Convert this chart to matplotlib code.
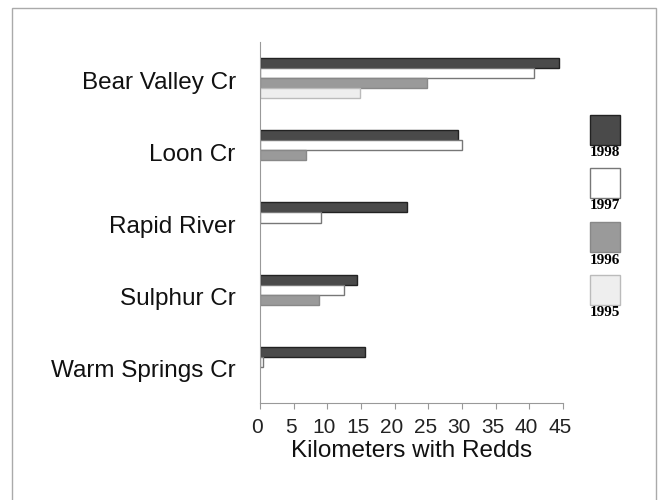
import matplotlib
matplotlib.use("Agg")
import matplotlib.pyplot as plt
from matplotlib.patches import Rectangle
from matplotlib.transforms import ScaledTranslation
import numpy as np

streams = ["Bear Valley Cr", "Loon Cr", "Rapid River", "Sulphur Cr", "Warm Springs Cr"]
years = ["1998", "1997", "1996", "1995"]
km_1998 = [44.4, 29.4, 21.8, 14.4, 15.6]
km_1997 = [40.7, 30.0, 9.1, 12.5, 0.4]
km_1996 = [24.8, 6.8, 0.0, 8.8, 0.0]
km_1995 = [14.9, 0.0, 0.0, 0.0, 0.0]
series = [km_1998, km_1997, km_1996, km_1995]
xticks = [0, 5, 10, 15, 20, 25, 30, 35, 40, 45]

faces = ["#4a4a4a", "#ffffff", "#9a9a9a", "#eeeeee"]
edges = ["#222222", "#777777", "#888888", "#bbbbbb"]

fig = plt.figure(figsize=(6.58, 5.0), dpi=100)
plt.rcParams['font.family'] = ['Liberation Sans', 'DejaVu Sans']

# page frame
fig.patches.append(Rectangle((12/658, -0.1), (656-12)/658, 1.1 - 8/500,
                             transform=fig.transFigure, fill=False,
                             edgecolor="#aaaaaa", linewidth=1.0))

ax = fig.add_axes([260/658, 1-403/500, (563-260)/658, (403-42)/500])
y = np.arange(len(streams))
h = 10/72
for i, (vals, fc, ec) in enumerate(zip(series, faces, edges)):
    offs = (i - 1.5) * h
    v = np.array(vals)
    mask = v > 0
    ax.barh(y[mask] + offs, v[mask], height=h, color=fc, edgecolor=ec,
            linewidth=1.0, align='center')

ax.set_ylim(4.5, -0.5)
ax.set_xlim(0, 45)
ax.set_xticks(xticks)
ax.set_xticklabels([str(t) for t in xticks], fontsize=15, color="#222222")
ax.set_yticks(y)
ax.set_yticklabels(streams, fontsize=17.5, color="#111111")
ax.tick_params(axis='y', length=0, pad=17.5)
ax.tick_params(axis='x', length=4, color="#999999", pad=7)
for lbl in ax.get_yticklabels():
    lbl.set_transform(lbl.get_transform() + ScaledTranslation(0, -2/100, fig.dpi_scale_trans))
for lbl in ax.get_xticklabels():
    lbl.set_transform(lbl.get_transform() + ScaledTranslation(-3/100, 0, fig.dpi_scale_trans))
for s in ["top", "right"]:
    ax.spines[s].set_visible(False)
ax.spines["left"].set_color("#999999")
ax.spines["bottom"].set_color("#999999")
ax.set_xlabel("Kilometers with Redds", fontsize=17.5, labelpad=2, color="#111111")

# legend boxes
box_tops = [115, 168, 222, 275]
for yr, fc, ec, top in zip(years, faces, edges, box_tops):
    fig.patches.append(Rectangle((590/658, 1-(top+30)/500), 30/658, 30/500,
                                 transform=fig.transFigure, facecolor=fc,
                                 edgecolor=ec, linewidth=1.0))
    fig.text(605/658, 1-(top+38)/500, yr, ha='center', va='center',
             fontsize=11, fontweight='bold',
             family=['Liberation Serif', 'DejaVu Serif'])

fig.savefig("out.png", dpi=100)
